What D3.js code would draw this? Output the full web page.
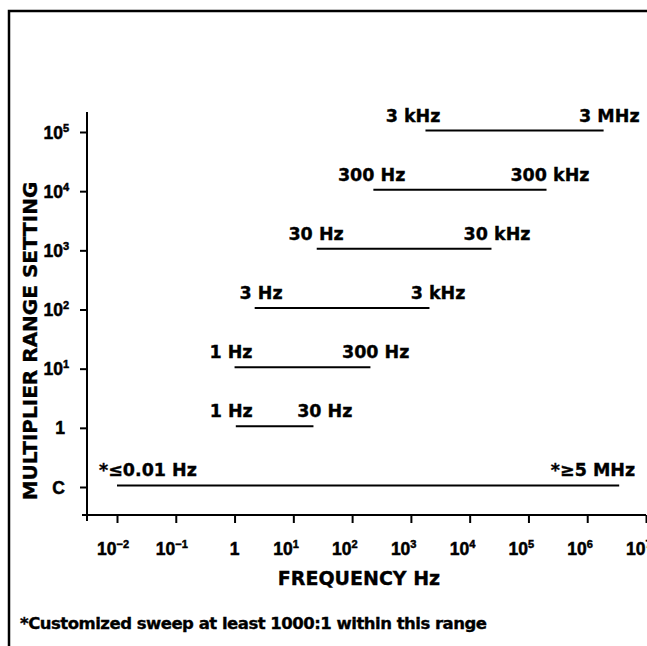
<!DOCTYPE html>
<html><head><meta charset="utf-8">
<script src="https://cdn.jsdelivr.net/npm/d3@7"></script>
<style>
body{margin:0;background:#fff}
text{font-family:"DejaVu Sans","Liberation Sans",sans-serif;font-weight:bold;fill:#000;stroke:#000;stroke-width:0.35}
text.tick{font-family:"Liberation Sans",Arial,sans-serif;stroke-width:0.5}
</style>
</head><body>
<svg id="chart" width="647" height="646"></svg>
<script>
// ---- data ----
const rows = ["C", "1", "1e1", "1e2", "1e3", "1e4", "1e5"];
const rowBase = ["C", "1", "10", "10", "10", "10", "10"];
const rowExp = ["", "", "1", "2", "3", "4", "5"];
const rangeStart = [0.01, 1.05, 1.0, 2.2, 25, 230, 1770];
const rangeEnd = [3.5e6, 22, 205, 2070, 23500, 2.03e5, 1.9e6];
const startLabels = ["*≤0.01 Hz", "1 Hz", "1 Hz", "3 Hz", "30 Hz", "300 Hz", "3 kHz"];
const endLabels = ["*≥5 MHz", "30 Hz", "300 Hz", "3 kHz", "30 kHz", "300 kHz", "3 MHz"];
const xTicks = [1e-2, 1e-1, 1, 1e1, 1e2, 1e3, 1e4, 1e5, 1e6, 1e7];
const xTickBase = ["10", "10", "1", "10", "10", "10", "10", "10", "10", "10"];
const xTickExp = ["−2", "−1", "", "1", "2", "3", "4", "5", "6", "7"];
const xTitle = "FREQUENCY Hz";
const yTitle = "MULTIPLIER RANGE SETTING";
const footnote = "*Customized sweep at least 1000:1 within this range";

// ---- layout ----
const svg = d3.select("#chart");
const x = d3.scaleLog().domain([1e-2, 1e7]).range([117, 646]);
const y = d3.scalePoint().domain(rows).range([487, 132]);
const axisX = 87, axisY = 515;

// frame
svg.append("path")
  .attr("d", "M9,646 L9,11 L647,11")
  .attr("fill", "none").attr("stroke", "#000").attr("stroke-width", 2.5);

// y axis
const yAxis = d3.axisLeft(y).tickSize(7).tickFormat("");
const gy = svg.append("g").attr("transform", `translate(${axisX},0)`).call(yAxis);
gy.select(".domain").remove();
gy.selectAll(".tick line").attr("stroke", "#000").attr("stroke-width", 2);
svg.append("line").attr("x1", axisX).attr("x2", axisX).attr("y1", 112).attr("y2", 521)
  .attr("stroke", "#000").attr("stroke-width", 2);

// x axis
const xAxis = d3.axisBottom(x).tickValues(xTicks).tickSize(8).tickFormat("");
const gx = svg.append("g").attr("transform", `translate(0,${axisY})`).call(xAxis);
gx.select(".domain").remove();
gx.selectAll(".tick line").attr("stroke", "#000").attr("stroke-width", 2);
svg.append("line").attr("x1", 82).attr("x2", 646).attr("y1", axisY).attr("y2", axisY)
  .attr("stroke", "#000").attr("stroke-width", 2);

// y tick labels
rows.forEach((r, i) => {
  const t = svg.append("text").attr("class", "tick")
    .attr("x", rowExp[i] ? 69 : 65).attr("y", y(r) + 6.5)
    .attr("text-anchor", "end").attr("font-size", 17.5);
  t.append("tspan").text(rowBase[i]);
  if (rowExp[i]) t.append("tspan").attr("dy", -7).attr("font-size", 11).text(rowExp[i]);
});

// x tick labels
xTicks.forEach((v, i) => {
  const t = svg.append("text").attr("class", "tick").attr("y", 555).attr("font-size", 17.5);
  if (xTickExp[i]) {
    t.attr("x", x(v) - 20);
    t.append("tspan").text(xTickBase[i]);
    t.append("tspan").attr("dy", -7).attr("font-size", 11).text(xTickExp[i]);
  } else {
    t.attr("x", x(v)).attr("text-anchor", "middle").text(xTickBase[i]);
  }
});

// range lines
const dxL = [0, 17, 18, 28, 27, 32, 15];
const dxR = [16, 39, 39, 36, 39, 43, 36];
rows.forEach((r, i) => {
  const ly = y(r) - 1.5;
  svg.append("line").attr("x1", x(rangeStart[i])).attr("x2", x(rangeEnd[i]))
    .attr("y1", ly).attr("y2", ly).attr("stroke", "#000").attr("stroke-width", 2);
  if (i === 0) {
    svg.append("text").attr("x", x(rangeStart[i]) - 18).attr("y", ly - 10)
      .attr("font-size", 17.5).text(startLabels[i]);
  } else {
    svg.append("text").attr("x", x(rangeStart[i]) + dxL[i]).attr("y", ly - 9)
      .attr("text-anchor", "end").attr("font-size", 17.5).text(startLabels[i]);
  }
  svg.append("text").attr("x", x(rangeEnd[i]) + dxR[i]).attr("y", ly - (i === 0 ? 10 : 9))
    .attr("text-anchor", "end").attr("font-size", 17.5).text(endLabels[i]);
});

// titles
svg.append("text").attr("x", 359).attr("y", 585).attr("text-anchor", "middle")
  .attr("font-size", 19).text(xTitle);
svg.append("text").attr("transform", "translate(37,341) rotate(-90)")
  .attr("text-anchor", "middle").attr("font-size", 20).text(yTitle);
svg.append("text").attr("x", 20).attr("y", 629).attr("font-size", 16.5)
  .attr("textLength", 467).attr("lengthAdjust", "spacing").text(footnote);
</script>
</body></html>
